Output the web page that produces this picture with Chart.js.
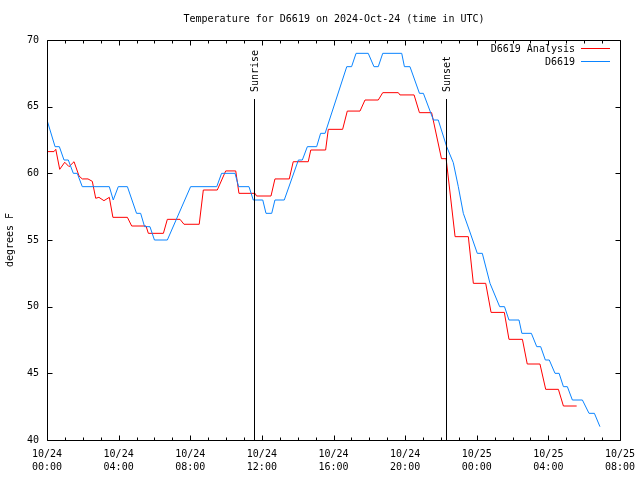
<!DOCTYPE html>
<html>
<head>
<meta charset="utf-8">
<script src="https://cdn.jsdelivr.net/npm/chart.js@4/dist/chart.umd.min.js"></script>
<style>
  html, body { margin: 0; padding: 0; background: #fff; }
  canvas { display: block; }
</style>
</head>
<body>
<canvas id="c" width="640" height="480"></canvas>
<script>
// ---- Data (time in hours after 10/24 00:00 UTC, temperature in degrees F) ----
const titleText = 'Temperature for D6619 on 2024-Oct-24 (time in UTC)';
const yAxisTitle = 'degrees F';
const seriesNames = ['D6619 Analysis', 'D6619'];

const analysisHours = [0, 0.39, 0.49, 0.71, 0.99, 1.23, 1.51, 1.79, 1.97, 2.29, 2.53, 2.72, 2.90, 3.18, 3.48,
  3.68, 4.49, 4.73, 5.53, 5.66, 6.50, 6.72, 7.43, 7.65, 8.50, 8.73, 9.51, 9.98, 10.54, 10.72, 11.62, 11.70,
  12.51, 12.73, 13.53, 13.75, 14.59, 14.73, 15.56, 15.71, 16.51, 16.77, 17.48, 17.76, 18.50, 18.75, 19.62,
  19.71, 20.50, 20.80, 21.48, 22.03, 22.29, 22.79, 23.53, 23.81, 24.50, 24.80, 25.54, 25.80, 26.55, 26.82,
  27.53, 27.85, 28.56, 28.84, 29.58];
const analysisTemps = [61.63, 61.63, 61.8, 60.3, 60.83, 60.5, 60.87, 59.8, 59.58, 59.58, 59.4, 58.13, 58.2, 57.95, 58.2,
  56.7, 56.7, 56.05, 56.05, 55.5, 55.5, 56.55, 56.55, 56.18, 56.18, 58.75, 58.75, 60.18, 60.18, 58.5, 58.5, 58.3,
  58.3, 59.58, 59.58, 60.87, 60.87, 61.75, 61.75, 63.3, 63.3, 64.67, 64.67, 65.5, 65.5, 66.05, 66.05,
  65.88, 65.88, 64.55, 64.55, 61.1, 61.1, 55.25, 55.25, 51.75, 51.75, 49.57, 49.57, 47.55, 47.55, 45.7,
  45.7, 43.8, 43.8, 42.55, 42.55];

const stationHours = [0, 0.45, 0.69, 0.95, 1.19, 1.47, 1.69, 1.97, 3.48, 3.70, 3.98, 4.49, 5.00, 5.23, 5.45, 5.75,
  6.00, 6.72, 8.02, 9.48, 9.75, 10.50, 10.70, 11.28, 11.52, 12.05, 12.23, 12.55, 12.73, 13.25, 14.04, 14.26,
  14.54, 15.06, 15.28, 15.53, 16.74, 17.01, 17.26, 17.94, 18.26, 18.50, 18.75, 19.81, 19.96, 20.27, 20.80,
  21.02, 21.58, 21.85, 22.32, 22.69, 22.97, 23.25, 23.58, 24.03, 24.31, 24.74, 25.28, 25.55, 25.80, 26.36,
  26.52, 27.05, 27.35, 27.57, 27.83, 28.05, 28.37, 28.60, 28.84, 29.06, 29.34, 29.90, 30.27, 30.57, 30.88];
const stationTemps = [64, 62, 62, 61, 61, 60, 60, 59, 59, 58, 59, 59, 57, 57, 56, 56,
  55, 55, 59, 59, 60, 60, 59, 59, 58, 58, 57, 57, 58, 58, 61, 61,
  62, 62, 63, 63, 68, 68, 69, 69, 68, 68, 69, 69, 68, 68, 66,
  66, 64, 64, 62, 60.8, 59, 57, 55.75, 54, 54, 51.75, 50, 50, 49, 49,
  48, 48, 47, 47, 46, 46, 45, 45, 44, 44, 43, 43, 42, 42, 41];

const eventNames = ['Sunrise', 'Sunset'];
const eventHours = [11.58, 22.30];

const xTickDates = ['10/24', '10/24', '10/24', '10/24', '10/24', '10/24', '10/25', '10/25', '10/25'];
const xTickTimes = ['00:00', '04:00', '08:00', '12:00', '16:00', '20:00', '00:00', '04:00', '08:00'];
const yTickValues = [40, 45, 50, 55, 60, 65, 70];

// ---- build library data ----
const toPoints = (hs, vs) => hs.map((h, i) => ({ x: h * 60, y: vs[i] }));
const FONT = 'DejaVu Sans Mono';
const FS = 10;

const decor = {
  id: 'decor',
  beforeDraw(chart) {
    const ctx = chart.ctx;
    ctx.save();
    ctx.fillStyle = '#fff';
    ctx.fillRect(0, 0, chart.width, chart.height);
    ctx.restore();
  },
  afterDraw(chart) {
    const { ctx, chartArea: a, scales } = chart;
    const xs = scales.x, ys = scales.y;
    const L = Math.round(a.left) + 0.5, R = Math.round(a.right) + 0.5;
    const T = Math.round(a.top) + 0.5, B = Math.round(a.bottom) + 0.5;
    ctx.save();
    ctx.strokeStyle = '#000';
    ctx.lineWidth = 1;
    ctx.beginPath();
    ctx.rect(L, T, R - L, B - T);
    // x ticks (bottom & top, inward)
    xs.ticks.forEach(t => {
      const px = Math.round(xs.getPixelForValue(t.value)) + 0.5;
      const len = (t.value % 240 === 0) ? 5 : 3;
      ctx.moveTo(px, B); ctx.lineTo(px, B - len);
      ctx.moveTo(px, T); ctx.lineTo(px, T + len);
    });
    // y ticks (left & right, inward)
    ys.ticks.forEach(t => {
      const py = Math.round(ys.getPixelForValue(t.value)) + 0.5;
      ctx.moveTo(L, py); ctx.lineTo(L + 5, py);
      ctx.moveTo(R, py); ctx.lineTo(R - 5, py);
    });
    ctx.stroke();

    // sunrise / sunset markers
    ctx.font = FS + 'px "' + FONT + '"';
    ctx.fillStyle = '#000';
    eventHours.forEach((h, i) => {
      const px = Math.round(xs.getPixelForValue(h * 60)) + 0.5;
      ctx.beginPath();
      ctx.moveTo(px, 99);
      ctx.lineTo(px, B);
      ctx.stroke();
      ctx.save();
      ctx.translate(px + 1, 92);
      ctx.rotate(-Math.PI / 2);
      ctx.textAlign = 'left';
      ctx.textBaseline = 'middle';
      ctx.fillText(eventNames[i], 0, 0);
      ctx.restore();
    });

    // title
    ctx.textAlign = 'center';
    ctx.textBaseline = 'middle';
    ctx.fillText(titleText, 334, 19);

    // y axis title
    ctx.save();
    ctx.translate(10, 240);
    ctx.rotate(-Math.PI / 2);
    ctx.fillText(yAxisTitle, 0, 0);
    ctx.restore();

    // legend
    const colors = chart.data.datasets.map(d => d.borderColor);
    seriesNames.forEach((name, i) => {
      const yy = 49 + i * 13;
      ctx.textAlign = 'right';
      ctx.textBaseline = 'middle';
      ctx.fillStyle = '#000';
      ctx.fillText(name, 575, yy);
      ctx.strokeStyle = colors[i];
      ctx.beginPath();
      ctx.moveTo(581, Math.round(yy - 1) + 0.5);
      ctx.lineTo(610, Math.round(yy - 1) + 0.5);
      ctx.stroke();
    });
    ctx.restore();
  }
};

new Chart(document.getElementById('c'), {
  type: 'line',
  data: {
    datasets: [
      { label: seriesNames[0], data: toPoints(analysisHours, analysisTemps), borderColor: '#ff0000',
        borderWidth: 1, pointRadius: 0, tension: 0, fill: false, order: 2 },
      { label: seriesNames[1], data: toPoints(stationHours, stationTemps), borderColor: '#0a84ff',
        borderWidth: 1, pointRadius: 0, tension: 0, fill: false, order: 1 }
    ]
  },
  options: {
    responsive: false,
    animation: false,
    devicePixelRatio: 1,
    layout: { padding: { top: 40, right: 20, left: 0, bottom: 0 } },
    plugins: { legend: { display: false }, title: { display: false }, tooltip: { enabled: false } },
    scales: {
      x: {
        type: 'linear', min: 0, max: 32 * 60,
        grid: { display: false, drawTicks: false },
        border: { display: false },
        ticks: {
          stepSize: 60, autoSkip: false, maxRotation: 0, minRotation: 0, padding: 8,
          color: '#000', font: { family: FONT, size: FS, lineHeight: 1.3 },
          callback: (v) => (v % 240 === 0) ? [xTickDates[v / 240], xTickTimes[v / 240]] : ''
        },
        afterFit: (s) => { s.height = 40; s.paddingLeft = 0; s.paddingRight = 0; }
      },
      y: {
        min: yTickValues[0], max: yTickValues[yTickValues.length - 1],
        grid: { display: false, drawTicks: false },
        border: { display: false },
        ticks: {
          stepSize: 5, padding: 8, color: '#000', font: { family: FONT, size: FS }
        },
        afterFit: (s) => { s.width = 47; s.paddingTop = 0; s.paddingBottom = 0; }
      }
    }
  },
  plugins: [decor]
});
</script>
</body>
</html>
